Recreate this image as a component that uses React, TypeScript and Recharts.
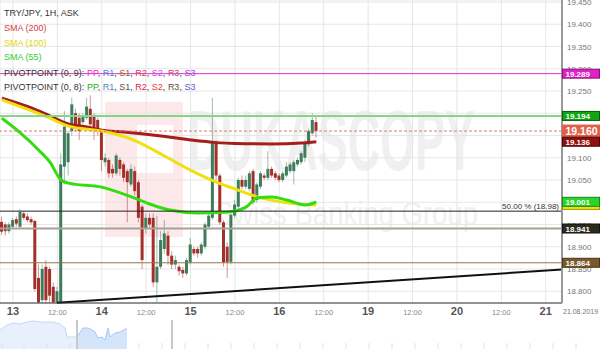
import React from 'react';
import {
  ComposedChart, Bar, Line, XAxis, YAxis, CartesianGrid, ReferenceLine,
  AreaChart, Area,
} from 'recharts';

// ---- candle data (hour index: 0 = 13 Aug 00:00, weekend removed) ----
const hours = [
  -3, -2, -1, 0, 1, 2, 3, 4, 5, 6, 7, 8, 9, 10, 11, 12, 13, 14, 15, 16, 17, 18, 19, 20, 21, 22, 23,
  24, 25, 26, 27, 28, 29, 30, 31, 32, 33, 34, 35, 36, 37, 38, 39, 40, 41, 42, 43, 44, 45, 46, 47,
  48, 49, 50, 51, 52, 53, 54, 55, 56, 57, 58, 59, 60, 61, 62, 63, 64, 65, 66, 67, 68, 69, 70, 71,
  72, 73, 74, 75, 76, 77, 78, 79, 80, 81, 82,
];
const opens = [
  18.956, 18.950, 18.935, 18.945, 18.962, 18.945, 18.975, 18.968, 18.962, 18.958, 18.830, 18.780, 18.855, 18.850, 18.810, 18.775, 18.775, 19.080, 19.090, 19.160, 19.200, 19.190, 19.180, 19.190, 19.210, 19.195, 19.185,
  19.160, 19.090, 19.095, 19.075, 19.065, 19.095, 19.085, 19.070, 19.040, 19.070, 19.045, 18.990, 18.940, 18.965, 18.965, 18.820, 18.855, 18.895, 18.925, 18.880, 18.860, 18.855, 18.848, 18.840,
  18.865, 18.895, 18.895, 18.885, 18.900, 18.945, 18.965, 19.135, 19.060, 18.955, 18.900, 18.866, 18.970, 18.990, 19.050, 19.035, 19.030, 19.070, 19.005, 19.035, 19.060, 19.055, 19.075, 19.065,
  19.060, 19.050, 19.060, 19.070, 19.070, 19.085, 19.090, 19.100, 19.130, 19.155, 19.180,
];
const highs = [
  18.968, 18.955, 18.955, 18.965, 18.968, 18.985, 18.980, 18.975, 18.968, 18.960, 18.860, 18.860, 18.870, 18.855, 18.820, 18.810, 19.110, 19.205, 19.160, 19.235, 19.210, 19.200, 19.200, 19.235, 19.240, 19.200, 19.190,
  19.165, 19.110, 19.100, 19.085, 19.110, 19.100, 19.090, 19.075, 19.085, 19.080, 19.050, 18.995, 18.975, 18.975, 18.975, 18.970, 18.935, 18.960, 18.935, 18.890, 18.880, 18.860, 18.855, 18.875,
  18.920, 18.900, 18.900, 18.910, 18.955, 18.975, 19.235, 19.140, 19.065, 18.960, 18.910, 18.975, 19.005, 19.055, 19.060, 19.060, 19.070, 19.075, 19.045, 19.070, 19.065, 19.115, 19.080, 19.070,
  19.065, 19.070, 19.090, 19.090, 19.095, 19.100, 19.115, 19.140, 19.165, 19.200, 19.195,
];
const lows = [
  18.927, 18.925, 18.930, 18.940, 18.945, 18.942, 18.960, 18.955, 18.950, 18.800, 18.766, 18.770, 18.770, 18.770, 18.766, 18.766, 18.766, 19.040, 19.060, 19.150, 19.160, 19.140, 19.175, 19.185, 19.165, 19.140, 19.150,
  19.070, 19.080, 19.055, 19.055, 19.060, 19.060, 19.045, 18.955, 19.035, 19.015, 18.955, 18.850, 18.930, 18.940, 18.810, 18.775, 18.850, 18.885, 18.860, 18.850, 18.850, 18.835, 18.830, 18.835,
  18.860, 18.880, 18.875, 18.880, 18.895, 18.940, 18.960, 19.050, 18.950, 18.855, 18.830, 18.860, 18.965, 18.985, 19.030, 19.030, 19.025, 18.995, 19.000, 19.030, 19.050, 19.050, 19.055, 19.050,
  19.045, 19.045, 19.055, 19.065, 19.040, 19.080, 19.085, 19.090, 19.125, 19.150, 19.145,
];
const closes = [
  18.934, 18.935, 18.950, 18.960, 18.952, 18.978, 18.965, 18.960, 18.955, 18.805, 18.775, 18.850, 18.780, 18.790, 18.775, 18.800, 19.085, 19.170, 19.155, 19.220, 19.170, 19.160, 19.195, 19.215, 19.175, 19.165, 19.165,
  19.095, 19.100, 19.065, 19.065, 19.105, 19.075, 19.055, 19.045, 19.075, 19.025, 18.965, 18.870, 18.965, 18.950, 18.820, 18.855, 18.915, 18.930, 18.880, 18.860, 18.870, 18.845, 18.840, 18.870,
  18.905, 18.885, 18.885, 18.905, 18.950, 18.970, 19.135, 19.060, 18.955, 18.865, 18.866, 18.972, 18.995, 19.050, 19.035, 19.050, 19.065, 19.000, 19.040, 19.065, 19.055, 19.075, 19.060, 19.055,
  19.050, 19.065, 19.080, 19.085, 19.090, 19.095, 19.110, 19.135, 19.160, 19.185, 19.160,
];

// ---- moving averages, read at sparse points [hour, value] ----
const sma200Points: [number, number][] = [
  [-3, 19.234], [5, 19.212], [10, 19.194], [15, 19.176], [20, 19.169], [24, 19.162], [30, 19.158],
  [40, 19.149], [48, 19.140], [55, 19.134], [60, 19.132], [70, 19.131], [78, 19.133], [82, 19.136],
];
const sma100Points: [number, number][] = [
  [-3, 19.230], [10, 19.189], [15, 19.171], [24, 19.160], [32, 19.142], [41, 19.104], [48, 19.072],
  [55, 19.045], [60, 19.030], [66, 19.012], [75, 18.998], [82, 18.994],
];
const sma55Points: [number, number][] = [
  [-3, 19.189], [2, 19.156], [7, 19.117], [10, 19.090], [13, 19.050], [15, 19.043], [24, 19.034],
  [32, 19.012], [37, 18.996], [42, 18.983], [50, 18.976], [58, 18.978], [63, 18.989], [66, 19.010],
  [70, 19.012], [74, 19.005], [79, 18.994], [82, 19.001],
];

// ---- axes ----
const timeTicks = [0, 12, 24, 36, 48, 60, 72, 84, 96, 108, 120, 132, 144];
const timeLabels = ['13', '12:00', '14', '12:00', '15', '12:00', '16', '12:00', '19', '12:00', '20', '12:00', '21'];
const priceTicks = [18.8, 18.85, 18.9, 18.95, 19.0, 19.05, 19.1, 19.15, 19.2, 19.25, 19.3, 19.35, 19.4, 19.45];
const xDomain: [number, number] = [-3.5, 148.4];
const yDomain: [number, number] = [18.7736, 19.4545];

// ---- levels ----
const pivot9PP = 19.289;
const pivot8PP = 19.194;
const lastPrice = 19.16;
const fib50 = 18.98;
const levelS1 = 18.941;
const levelS2 = 18.864;
const sma200Last = 19.136;
const sma100Last = 18.994;
const sma55Last = 19.001;
const trendStart = { t: 11.9, p: 18.774 };
const trendEnd = { t: 148.4, p: 18.849 };

// ---- navigator (overview strip) ----
const navLeftX = [0, 3, 7, 13, 20, 27, 33, 40, 47, 53, 60, 65, 67, 77];
const navLeftV = [19, 21, 24, 26, 25, 27, 28, 27, 27, 27, 25, 21, 12, 12];
const navRightX = [77, 83, 88, 92, 95, 98, 102, 105, 108, 110, 115, 120, 125, 127];
const navRightV = [12, 21, 21, 19, 17, 11, 12, 9, 21, 12, 16, 17, 20, 20];
const navMarkers = [77, 172];
const navTicks = [2, 24, 47, 70, 93, 116, 139, 162, 185, 208, 231, 254, 277, 300, 323, 346, 369, 392, 415, 438, 461, 484, 507, 530, 553, 576];

const m200 = new Map(sma200Points);
const m100 = new Map(sma100Points);
const m55 = new Map(sma55Points);

const data = hours.map((t, i) => ({
  t,
  range: [lows[i], highs[i]],
  open: opens[i],
  high: highs[i],
  low: lows[i],
  close: closes[i],
  sma200: m200.has(t) ? m200.get(t) : null,
  sma100: m100.has(t) ? m100.get(t) : null,
  sma55: m55.has(t) ? m55.get(t) : null,
}));

const navData = [
  ...navLeftX.map((x, i) => ({ x, a: navLeftV[i], b: null as number | null })),
  ...navRightX.map((x, i) => ({ x, a: null as number | null, b: navRightV[i] })),
];

const FONT = '"Liberation Sans", Arial, sans-serif';

function Candle(props: any) {
  const { x, y, width, height, payload } = props;
  if (!payload || height == null) return null;
  const { open, close, high, low } = payload;
  const k = high - low > 0 ? height / (high - low) : 0;
  const yO = y + (high - open) * k;
  const yC = y + (high - close) * k;
  const up = close >= open;
  const color = up ? '#3e7d5c' : '#a3302a';
  const cx = x + width / 2;
  const top = Math.min(yO, yC);
  const h = Math.max(1, Math.abs(yC - yO));
  return (
    <g>
      <line x1={cx} x2={cx} y1={y} y2={y + height} stroke={color} strokeOpacity={0.5} strokeWidth={1} />
      <rect x={x} y={top} width={width} height={h} fill={color} />
    </g>
  );
}

function PriceTag(props: any) {
  const { viewBox, text, bg, border, color = '#fff', big = false } = props;
  if (!viewBox) return null;
  const x = viewBox.x + viewBox.width;
  const y = viewBox.y;
  const h = big ? 12 : 9;
  return (
    <g>
      <rect x={x + 0.5} y={y - h / 2} width={37} height={h} fill={bg} stroke={border} strokeWidth={1} />
      <text x={x + 3.5} y={y + (big ? 4 : 3)} fontSize={big ? 10.5 : 8} fontWeight="bold" fill={color} fontFamily={FONT}>
        {text}
      </text>
    </g>
  );
}

function FibLabel(props: any) {
  const { viewBox } = props;
  if (!viewBox) return null;
  return (
    <text x={viewBox.x + viewBox.width - 3} y={viewBox.y - 2.5} fontSize={8} fill="#333" textAnchor="end" fontFamily={FONT}>
      50.00 % (18.98)
    </text>
  );
}

function TimeTick(props: any) {
  const { x, y, payload } = props;
  const idx = timeTicks.indexOf(payload.value);
  const label = timeLabels[idx] ?? '';
  const isDay = label.indexOf(':') < 0;
  return (
    <text
      x={x}
      y={y + 4}
      textAnchor="middle"
      fontSize={isDay ? 11 : 7.5}
      fontWeight={isDay ? 'bold' : 'normal'}
      fill={isDay ? '#555' : '#888'}
      fontFamily={FONT}
    >
      {label}
    </text>
  );
}

function PriceTick(props: any) {
  const { y, payload } = props;
  return (
    <text x={567} y={y + 3} fontSize={8} fill="#777" fontFamily={FONT}>
      {Number(payload.value).toFixed(3)}
    </text>
  );
}

export default function App() {
  return (
    <div style={{ position: 'absolute', left: 0, top: 0, width: 600, height: 349, background: '#fff', overflow: 'hidden', fontFamily: FONT }}>
      {/* watermark */}
      <svg width={600} height={349} style={{ position: 'absolute', left: 0, top: 0 }}>
        <rect x={105} y={102} width={78} height={135} fill="#fde8ea" />
        <rect x={137} y={125} width={36} height={48} fill="#fff" />
        <text x={188} y={170} fontSize={86} fontWeight="bold" fill="#f0f0f0" textLength={287} lengthAdjust="spacingAndGlyphs" fontFamily={FONT}>
          DUKASCOPY
        </text>
        <text x={215} y={225} fontSize={33} fill="#f0f0f0" textLength={263} lengthAdjust="spacingAndGlyphs" fontFamily={FONT}>
          Swiss Banking Group
        </text>
      </svg>

      {/* price chart */}
      <div style={{ position: 'absolute', left: 0, top: 0 }}>
        <ComposedChart width={600} height={321} data={data} margin={{ top: 0, right: 0, left: 0, bottom: 0 }}>
          <CartesianGrid stroke="#e6e6e6" strokeWidth={1} />
          <XAxis
            dataKey="t"
            type="number"
            domain={xDomain}
            ticks={timeTicks}
            allowDataOverflow
            height={18}
            axisLine={{ stroke: '#333', strokeWidth: 1 }}
            tickLine={false}
            tick={<TimeTick />}
            interval={0}
          />
          <YAxis
            orientation="right"
            type="number"
            width={38}
            domain={yDomain}
            ticks={priceTicks}
            allowDataOverflow
            axisLine={{ stroke: '#999', strokeWidth: 2 }}
            tickLine={false}
            tick={<PriceTick />}
            interval={0}
          />
          <Line dataKey="sma200" type="monotone" stroke="#a61e1a" strokeWidth={3} dot={false} activeDot={false} connectNulls isAnimationActive={false} />
          <Line dataKey="sma100" type="monotone" stroke="#f0e010" strokeWidth={3} dot={false} activeDot={false} connectNulls isAnimationActive={false} />
          <Line dataKey="sma55" type="monotone" stroke="#33dd11" strokeWidth={3} dot={false} activeDot={false} connectNulls isAnimationActive={false} />
          <Bar dataKey="range" barSize={3} shape={<Candle />} activeBar={false} isAnimationActive={false} />

          <ReferenceLine y={pivot9PP} stroke="#e030c8" strokeWidth={1} />
          <ReferenceLine y={pivot8PP} stroke="#86d486" strokeWidth={2} />
          <ReferenceLine y={lastPrice} stroke="#e07878" strokeWidth={1} strokeDasharray="3 2" />
          <ReferenceLine y={fib50} stroke="#222" strokeWidth={1} label={<FibLabel />} />
          <ReferenceLine y={levelS1} stroke="#a8a294" strokeWidth={2} />
          <ReferenceLine y={levelS2} stroke="#967248" strokeWidth={1} />
          <ReferenceLine
            segment={[{ x: trendStart.t, y: trendStart.p }, { x: trendEnd.t, y: trendEnd.p }]}
            stroke="#111"
            strokeWidth={2}
            ifOverflow="visible"
          />
        </ComposedChart>
      </div>

      {/* price tags on the axis, drawn over the tick labels with the same scales */}
      <div style={{ position: 'absolute', left: 0, top: 0, pointerEvents: 'none' }}>
        <ComposedChart width={600} height={321} data={data} margin={{ top: 0, right: 38, left: 0, bottom: 18 }}>
          <XAxis dataKey="t" type="number" domain={xDomain} allowDataOverflow hide />
          <YAxis type="number" domain={yDomain} allowDataOverflow hide />
          <ReferenceLine y={pivot9PP} stroke="none"
            label={<PriceTag text="19.289" bg="#e020c8" border="#8a1070" />} />
          <ReferenceLine y={pivot8PP} stroke="none"
            label={<PriceTag text="19.194" bg="#12a612" border="#0a5a0a" />} />
          <ReferenceLine y={lastPrice} stroke="none"
            label={<PriceTag text="19.160" bg="#e0604c" border="#e0604c" big />} />
          <ReferenceLine y={sma200Last} stroke="none"
            label={<PriceTag text="19.136" bg="#8e1010" border="#4a0808" />} />
          <ReferenceLine y={sma100Last} stroke="none"
            label={<PriceTag text="18.994" bg="#f0e010" border="#a09a00" color="#f0e010" />} />
          <ReferenceLine y={sma55Last} stroke="none"
            label={<PriceTag text="19.001" bg="#2ad62a" border="#138a13" />} />
          <ReferenceLine y={levelS1} stroke="none"
            label={<PriceTag text="18.941" bg="#2c2a1c" border="#111" />} />
          <ReferenceLine y={levelS2} stroke="none"
            label={<PriceTag text="18.864" bg="#7a5a2c" border="#4a3414" />} />
        </ComposedChart>
      </div>

      {/* legend + date */}
      <svg width={600} height={349} style={{ position: 'absolute', left: 0, top: 0, pointerEvents: 'none' }}>
        <g fontSize={9} fontFamily={FONT}>
          <text x={4} y={16} fill="#333">TRY/JPY, 1H, ASK</text>
          <text x={4} y={30.5} fill="#cc4444">SMA (200)</text>
          <text x={4} y={45.5} fill="#e6d600">SMA (100)</text>
          <text x={4} y={60} fill="#33cc33">SMA (55)</text>
          <text x={4} y={75.5} fill="#333">
            PIVOTPOINT (0, 9):{' '}
            <tspan fill="#ee22cc">PP</tspan>, <tspan fill="#3a8ad8">R1</tspan>, <tspan fill="#8a6a30">S1</tspan>, <tspan fill="#d04060">R2</tspan>, <tspan fill="#d040e0">S2</tspan>, <tspan fill="#c04080">R3</tspan>, <tspan fill="#a040e0">S3</tspan>
          </text>
          <text x={4} y={90} fill="#333">
            PIVOTPOINT (0, 8):{' '}
            <tspan fill="#22aa22">PP</tspan>, <tspan fill="#4a8ac0">R1</tspan>, <tspan fill="#555">S1</tspan>, <tspan fill="#dd2244">R2</tspan>, <tspan fill="#e04030">S2</tspan>, <tspan fill="#6a4a2a">R3</tspan>, <tspan fill="#5a5ad0">S3</tspan>
          </text>
        </g>
        <text x={563} y={314} fontSize={7} fill="#777" fontFamily={FONT}>21.08.2019</text>
      </svg>

      {/* navigator */}
      <div style={{ position: 'absolute', left: 0, top: 320, width: 600, height: 29 }}>
        <AreaChart width={600} height={29} data={navData} margin={{ top: 0, right: 0, left: 0, bottom: 0 }}>
          <XAxis dataKey="x" type="number" domain={[0, 600]} hide />
          <YAxis type="number" domain={[0, 29]} hide />
          {navTicks.map((x) => (
            <ReferenceLine key={x} segment={[{ x, y: 0 }, { x, y: 6 }]} stroke="#e2e2e2" strokeWidth={1} />
          ))}
          <Area dataKey="a" type="linear" stroke="#c4d9f7" fill="#e8f0fd" fillOpacity={1} activeDot={false} isAnimationActive={false} />
          <Area dataKey="b" type="linear" stroke="#a6c6f3" fill="#d4e4fb" fillOpacity={1} activeDot={false} isAnimationActive={false} />
          {navMarkers.map((x) => (
            <ReferenceLine key={x} x={x} stroke="#c8c8c8" strokeWidth={2} />
          ))}
        </AreaChart>
      </div>
    </div>
  );
}
